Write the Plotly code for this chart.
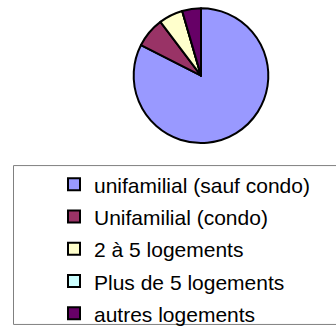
import plotly.graph_objects as go

# Housing types and their share of the total (percent)
categories = [
    "unifamilial (sauf condo)",
    "Unifamilial (condo)",
    "2 à 5 logements",
    "Plus de 5 logements",
    "autres logements",
]
shares = [82.5, 7.2, 5.8, 0.0, 4.5]
colors = ["#9999FF", "#993366", "#FFFFCC", "#CCFFFF", "#660066"]

W, H = 336, 335

# Legend text is drawn in a span of its own size while the legend font is
# larger, which gives the roomier row spacing.
legend_labels = [f'<span style="font-size:21px">{c}</span>' for c in categories]

fig = go.Figure(
    go.Pie(
        labels=legend_labels,
        values=shares,
        sort=False,
        direction="clockwise",
        rotation=0,
        textinfo="none",
        hoverinfo="label+percent",
        marker=dict(colors=colors, line=dict(color="#000000", width=2)),
        domain=dict(x=[128 / W, 274 / W], y=[1 - 155 / H, 1 - 9 / H]),
    )
)

# Frame around the legend area
fig.add_shape(
    type="rect",
    xref="paper", yref="paper",
    x0=13.5 / W, x1=1.05, y0=-0.05, y1=1 - 179.5 / H,
    line=dict(color="#808080", width=1),
    fillcolor="rgba(0,0,0,0)",
    layer="below",
)

fig.update_layout(
    width=W,
    height=H,
    margin=dict(l=0, r=0, t=0, b=0),
    paper_bgcolor="white",
    plot_bgcolor="white",
    font=dict(family="Arial, Liberation Sans, sans-serif", color="#000000"),
    showlegend=True,
    legend=dict(
        x=54 / W,
        y=1 - 177 / H,
        xanchor="left",
        yanchor="top",
        bgcolor="rgba(0,0,0,0)",
        borderwidth=0,
        font=dict(size=22.5, family="Arial, Liberation Sans, sans-serif", color="#000000"),
    ),
)

fig.write_html("out.html")
